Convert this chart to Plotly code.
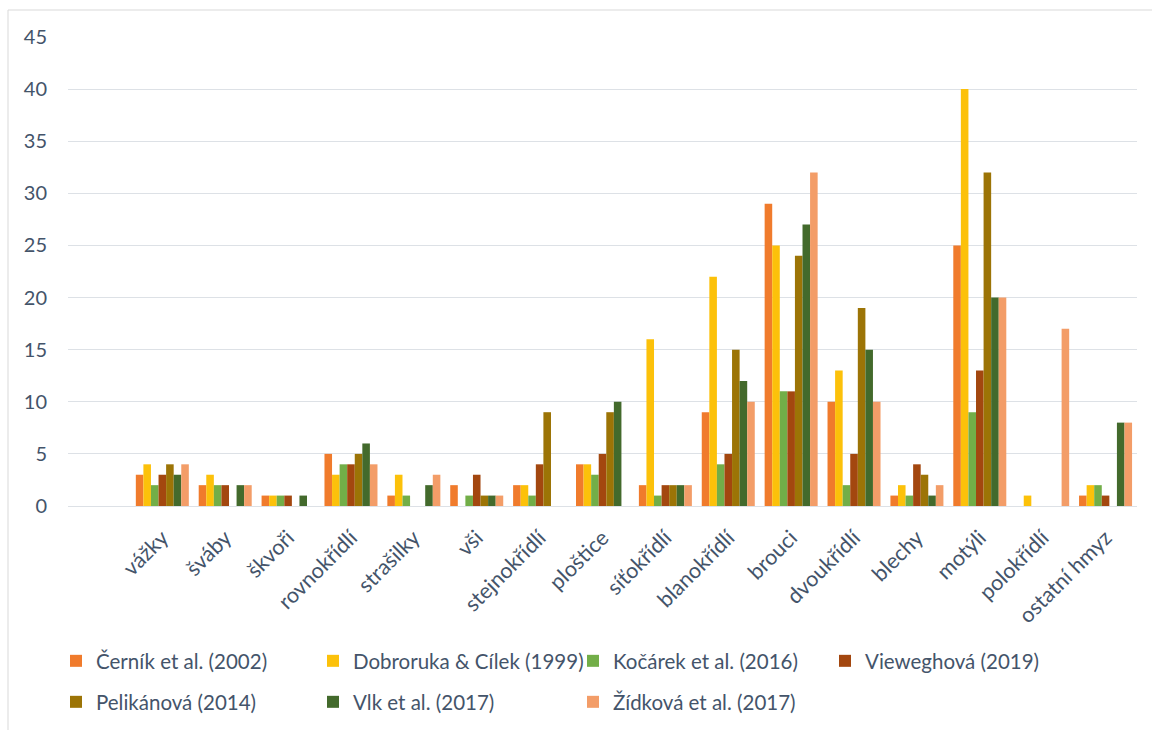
import plotly.graph_objects as go

# Insect orders (first slot left empty, as in the original workbook layout)
categories = ["vážky", "šváby", "škvoři", "rovnokřídlí", "strašilky", "vši",
              "stejnokřídlí", "ploštice", "síťokřídlí", "blanokřídlí", "brouci",
              "dvoukřídlí", "blechy", "motýli", "polokřídlí", "ostatní hmyz"]

cernik =      [3, 2, 1, 5, 1, 2, 2, 4, 2, 9, 29, 10, 1, 25, 0, 1]
dobroruka =   [4, 3, 1, 3, 3, 0, 2, 4, 16, 22, 25, 13, 2, 40, 1, 2]
kocarek =     [2, 2, 1, 4, 1, 1, 1, 3, 1, 4, 11, 2, 1, 9, 0, 2]
vieweghova =  [3, 2, 1, 4, 0, 3, 4, 5, 2, 5, 11, 5, 4, 13, 0, 1]
pelikanova =  [4, 0, 0, 5, 0, 1, 9, 9, 2, 15, 24, 19, 3, 32, 0, 0]
vlk =         [3, 2, 1, 6, 2, 1, 0, 10, 2, 12, 27, 15, 1, 20, 0, 8]
zidkova =     [4, 2, 0, 4, 3, 1, 0, 0, 2, 10, 32, 10, 2, 20, 17, 8]

series_names = ["Černík et al. (2002)", "Dobroruka & Cílek (1999)",
                "Kočárek et al. (2016)", "Vieweghová (2019)",
                "Pelikánová (2014)", "Vlk et al. (2017)", "Žídková et al. (2017)"]
series_values = [cernik, dobroruka, kocarek, vieweghova, pelikanova, vlk, zidkova]
series_colors = ["#F07B2C", "#FCC10A", "#72AE48", "#A3470F",
                 "#9C7406", "#436A2C", "#F39D68"]

y_ticks = [0, 5, 10, 15, 20, 25, 30, 35, 40, 45]

TEXT = "#44546A"
FONT = "Lato"
GRID = "#DDE1E6"

W, H = 1152, 730
L, R, T, B = 68, 15, 37, 224
pw, ph = W - L - R, H - T - B


def px_x(p):
    return (p - L) / pw


def px_y(p):
    return (H - B - p) / ph


# legend grid: 4 columns x 2 rows, one single-entry legend per series
col_left = [56, 313, 573, 825]
row_mid = [661, 702]

fig = go.Figure()
legends = {}
for i, (name, vals, col) in enumerate(zip(series_names, series_values, series_colors)):
    key = "legend" if i == 0 else f"legend{i + 1}"
    fig.add_trace(go.Bar(
        x=categories, y=vals, name=name,
        marker=dict(color=col, line=dict(width=0)),
        legend=key, showlegend=True,
    ))
    legends[key] = dict(
        orientation="h", xref="paper", yref="paper",
        xanchor="left", yanchor="middle",
        x=px_x(col_left[i % 4]), y=px_y(row_mid[i // 4]),
        font=dict(family=FONT, size=20.5, color=TEXT),
        bgcolor="rgba(0,0,0,0)", itemclick=False, itemdoubleclick=False,
    )

fig.update_layout(
    width=W, height=H, showlegend=True,
    margin=dict(l=L, r=R, t=T, b=B, autoexpand=False),
    paper_bgcolor="white", plot_bgcolor="white",
    barmode="group", bargap=0.157, bargroupgap=0,
    font=dict(family=FONT, size=21, color=TEXT),
    xaxis=dict(
        type="category", range=[-1.5, 15.5], tickangle=-45,
        showgrid=False, showline=False, ticks="", automargin=False,
        ticklabelstandoff=14,
        tickfont=dict(family=FONT, size=21.5, color=TEXT),
    ),
    yaxis=dict(
        range=[0, 45], tickvals=y_ticks, showgrid=True, gridcolor=GRID,
        gridwidth=1.3, zeroline=True, zerolinecolor=GRID, zerolinewidth=1.3,
        showline=False, ticks="", automargin=False, ticklabelstandoff=20,
        tickfont=dict(family=FONT, size=20, color=TEXT),
    ),
    shapes=[dict(type="rect", xref="paper", yref="paper",
                 x0=px_x(8), x1=px_x(1170), y0=px_y(10), y1=px_y(760),
                 line=dict(color="#D9D9D9", width=1), layer="below")],
    **legends,
)

fig.write_html("out.html")
